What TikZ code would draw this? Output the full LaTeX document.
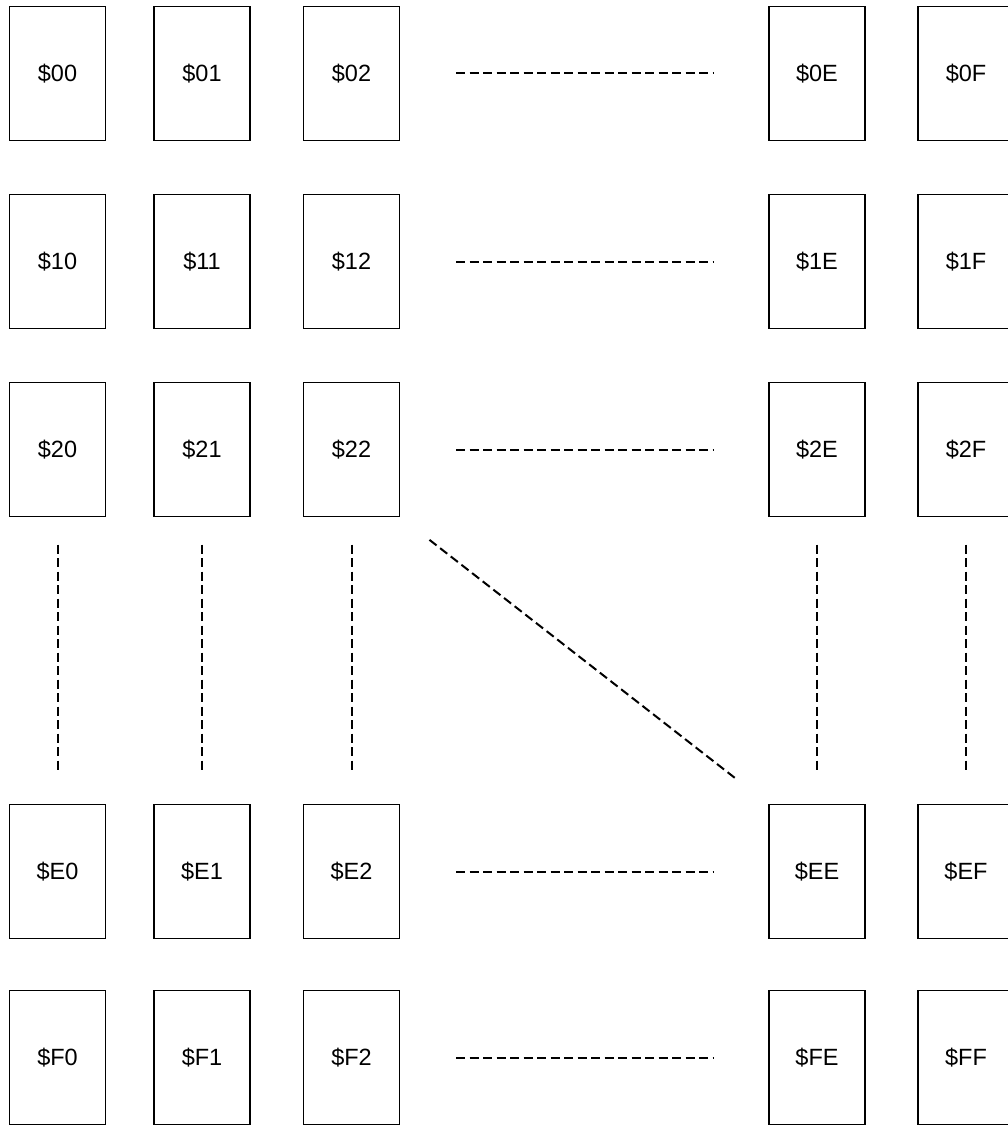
\documentclass[tikz,border=0pt]{standalone}
\usepackage{fontspec}
\setmainfont{Liberation Sans}
\begin{document}
\begin{tikzpicture}[x=1pt,y=-1pt,
  cell/.style={draw, line width=1.8pt, minimum width=96pt, minimum height=134pt, inner sep=0pt, outer sep=0pt, font=\fontsize{23.5}{28}\selectfont},
  dots/.style={line width=2pt, dash pattern=on 9pt off 4.5pt}]
\useasboundingbox (0,0) rectangle (1007,1126);
\foreach \r/\ry/\rl in {0/73.5/0,1/261.5/1,2/449.5/2,3/871.5/E,4/1057.5/F}
  \foreach \c/\cx/\cl in {0/57.5/0,1/202/1,2/351.5/2,3/817/E,4/966/F}
    \node[cell] (r\r-\c) at (\cx,\ry) {\$\rl\cl};
\foreach \r in {0,...,4}
  \draw[dots, shorten <=56.5pt, shorten >=55pt] (r\r-2.east) -- (r\r-3.west);
\foreach \c in {0,...,4}
  \draw[dots, shorten <=28pt, shorten >=32pt] (r2-\c.south) -- (r3-\c.north);
\draw[dots, shorten <=38pt, shorten >=40pt] (r2-2.south east) -- (r3-3.north west);
\end{tikzpicture}
\end{document}
